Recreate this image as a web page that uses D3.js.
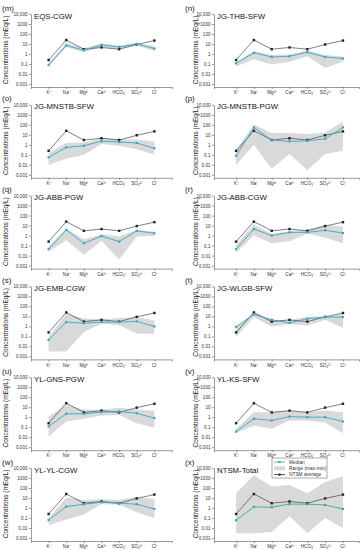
<!DOCTYPE html>
<html>
<head>
<meta charset="utf-8">
<script src="https://cdn.jsdelivr.net/npm/d3@7"></script>
<style>
  body { margin: 0; background: #fff; }
  svg { display: block; font-family: "Liberation Sans", Arial, sans-serif; }
</style>
</head>
<body>
<div id="chart"></div>
<script>
// ions on the x axis
const ions = [`K⁺`, `Na⁺`, `Mg²⁺`, `Ca²⁺`, `HCO₃⁻`, `SO₄²⁻`, `Cl⁻`];
const yTicks = [10000, 1000, 100, 10, 1, 0.1, 0.01, 0.001];
const yTickLabels = [`10,000`, `1000`, `100`, `10`, `1`, `0.1`, `0.01`, `0.001`];

const panelLetters = [`(m)`, `(n)`, `(o)`, `(p)`, `(q)`, `(r)`, `(s)`, `(t)`, `(u)`, `(v)`, `(w)`, `(x)`];
const panelNames = [`EQS-CGW`, `JG-THB-SFW`, `JG-MNSTB-SFW`, `JG-MNSTB-PGW`, `JG-ABB-PGW`, `JG-ABB-CGW`,
  `JG-EMB-CGW`, `JG-WLGB-SFW`, `YL-GNS-PGW`, `YL-KS-SFW`, `YL-YL-CGW`, `NTSM-Total`];

// NTSM average (same in every panel)
const ntsmAverage = [0.25, 25, 3, 4.5, 3, 9, 22];

// median per panel (mEq/L)
const medianValues = [
  [0.08, 7, 2.4, 8, 5, 10, 3.5],
  [0.12, 1.3, 0.5, 0.6, 1.5, 0.5, 0.35],
  [0.055, 0.55, 0.8, 2.3, 1.9, 1.5, 0.45],
  [0.08, 55, 3, 2.2, 2.5, 4, 55],
  [0.045, 3.7, 0.17, 0.9, 0.25, 3, 1.7],
  [0.045, 4.5, 1.0, 2.1, 2.1, 3.4, 1.8],
  [0.045, 2.7, 2.1, 2.7, 2.7, 3.2, 1.0],
  [0.9, 16, 4.6, 2.2, 5.8, 8.5, 8.5],
  [0.12, 2.2, 2.2, 3.2, 3.7, 2.5, 0.8],
  [0.037, 0.7, 0.47, 1.15, 1.0, 1.0, 0.37],
  [0.063, 1.4, 2.4, 3.8, 3, 2.4, 0.8],
  [0.06, 1.3, 1.2, 2.5, 2.4, 2, 0.8]
];

// range: minimum and maximum per panel
const minValues = [
  [0.06, 5, 1.5, 5, 3, 7, 2],
  [0.055, 0.3, 0.09, 0.17, 0.6, 0.04, 0.18],
  [0.01, 0.04, 0.1, 1.2, 0.8, 0.35, 0.1],
  [0.01, 1, 0.004, 0.12, 0.003, 0.12, 0.25],
  [0.025, 0.35, 0.012, 0.3, 0.004, 0.8, 0.9],
  [0.02, 1, 0.17, 0.27, 1.6, 0.6, 0.17],
  [0.003, 0.003, 0.27, 1.8, 1.3, 0.2, 0.18],
  [0.09, 8.5, 1, 1.6, 1.25, 4.6, 0.7],
  [0.012, 0.37, 0.7, 1.5, 1.7, 0.25, 0.09],
  [0.025, 0.15, 0.07, 0.46, 0.46, 0.3, 0.025],
  [0.02, 0.07, 0.23, 2.4, 2.1, 0.38, 0.1],
  [0.003, 0.003, 0.004, 0.15, 0.003, 0.1, 0.01]
];
const maxValues = [
  [0.11, 13, 3.5, 12, 7, 13, 6],
  [0.14, 2, 0.8, 0.9, 2.2, 0.8, 0.55],
  [0.15, 1.5, 1.7, 4.6, 3.7, 3.2, 2.1],
  [0.3, 100, 15, 15, 12, 17, 200],
  [0.08, 5, 0.4, 1.4, 0.8, 3.7, 2.5],
  [0.12, 12, 1.5, 2.7, 4, 12, 8],
  [0.09, 18, 6, 5, 7, 8.5, 4],
  [0.85, 22, 4.6, 4, 10, 10, 16],
  [1.2, 17, 6, 5.4, 9, 6, 4.3],
  [0.07, 3.2, 3.2, 4.6, 3.2, 4.6, 3.2],
  [0.1, 11, 6.4, 7.4, 6.4, 13, 7.4],
  [30, 1900, 140, 200, 30, 400, 1500]
];

const legendLabels = [`Median`, `Range (max-min)`, `NTSM average`];

const width = 364;
const height = 550;
// per column: y axis position, axis end, x domain
const colX = [31, 214];
const colEnd = [172, 359];
const colDomain = [[0, 8], [-0.24, 7.9]];
const labelX = [6, 196];
const letterX = [2, 185];
const rowPitch = 90.8;
const plotH = 73;

const svg = d3.select(`#chart`).append(`svg`)
  .attr(`width`, width)
  .attr(`height`, height);

svg.append(`rect`).attr(`width`, width).attr(`height`, height).attr(`fill`, `#fff`);

panelNames.forEach((name, p) => {
  const col = p % 2;
  const row = Math.floor(p / 2);
  const left = colX[col];
  const top = 14 + row * rowPitch;
  const medColor = p === 11 ? `#3bab8c` : `#3aa7c4`;

  const x = d3.scaleLinear().domain(colDomain[col]).range([left, colEnd[col]]);
  const y = d3.scaleLog().domain([0.0005, 10000]).range([top + plotH, top]);

  const g = svg.append(`g`);

  // range band
  const band = d3.range(ions.length).map(i => ({ i, lo: minValues[p][i], hi: maxValues[p][i] }));
  g.append(`path`)
    .datum(band)
    .attr(`fill`, `#d9d9d9`)
    .attr(`d`, d3.area().x(d => x(d.i + 1)).y0(d => y(d.lo)).y1(d => y(d.hi)));

  // NTSM average
  const line = d3.line().x((d, i) => x(i + 1)).y(d => y(d));
  g.append(`path`)
    .datum(ntsmAverage)
    .attr(`fill`, `none`)
    .attr(`stroke`, `#3a3a3a`)
    .attr(`stroke-width`, 0.65)
    .attr(`d`, line);
  g.selectAll(`.avg`)
    .data(ntsmAverage)
    .enter().append(`rect`)
      .attr(`x`, (d, i) => x(i + 1) - 1.2)
      .attr(`y`, d => y(d) - 1.2)
      .attr(`width`, 2.4)
      .attr(`height`, 2.4)
      .attr(`fill`, `#222`);

  // median
  g.append(`path`)
    .datum(medianValues[p])
    .attr(`fill`, `none`)
    .attr(`stroke`, medColor)
    .attr(`stroke-width`, 0.9)
    .attr(`d`, line);
  g.selectAll(`.med`)
    .data(medianValues[p])
    .enter().append(`rect`)
      .attr(`x`, (d, i) => x(i + 1) - 1.1)
      .attr(`y`, d => y(d) - 1.1)
      .attr(`width`, 2.2)
      .attr(`height`, 2.2)
      .attr(`fill`, medColor);

  // axes
  const yAxis = g.append(`g`)
    .attr(`transform`, `translate(${left},0)`)
    .call(d3.axisLeft(y)
      .tickValues(yTicks)
      .tickFormat((d, i) => yTickLabels[i])
      .tickSize(2)
      .tickSizeOuter(0)
      .tickPadding(1.5));
  const xAxis = g.append(`g`)
    .attr(`transform`, `translate(0,${top + plotH})`)
    .call(d3.axisBottom(x)
      .tickValues(d3.range(1, 8))
      .tickFormat(d => ions[d - 1])
      .tickSize(2)
      .tickSizeOuter(2)
      .tickPadding(2));
  [yAxis, xAxis].forEach(a => {
    a.selectAll(`path, line`).attr(`stroke`, `#555`).attr(`stroke-width`, 0.6);
    a.selectAll(`text`).attr(`font-size`, 4.6).attr(`fill`, `#333`).attr(`font-family`, `"Liberation Sans", Arial, sans-serif`);
  });

  // labels
  svg.append(`text`)
    .attr(`x`, letterX[col])
    .attr(`y`, top - 3.5)
    .attr(`font-size`, 8)
    .attr(`fill`, `#222`)
    .text(panelLetters[p]);
  svg.append(`text`)
    .attr(`x`, left + 3)
    .attr(`y`, top + 4.5)
    .attr(`font-size`, 7.8)
    .attr(`fill`, `#111`)
    .text(name);
  svg.append(`text`)
    .attr(`transform`, `translate(${labelX[col]},${top + 36}) rotate(-90)`)
    .attr(`text-anchor`, `middle`)
    .attr(`dy`, `0.35em`)
    .attr(`font-size`, 6.5)
    .attr(`fill`, `#222`)
    .text(`Concentrations (mEq/L)`);

  // legend in the last panel
  if (p === 11) {
    const lg = svg.append(`g`).attr(`transform`, `translate(272,458)`);
    lg.append(`rect`).attr(`width`, 55).attr(`height`, 20)
      .attr(`fill`, `#fff`).attr(`stroke`, `#555`).attr(`stroke-width`, 0.5);
    legendLabels.forEach((lab, k) => {
      const ly = 4 + k * 6.3;
      if (k === 1) {
        lg.append(`rect`).attr(`x`, 2).attr(`y`, ly - 2).attr(`width`, 11).attr(`height`, 4).attr(`fill`, `#d9d9d9`);
      } else {
        const c = k === 0 ? medColor : `#222`;
        lg.append(`line`).attr(`x1`, 2).attr(`x2`, 13).attr(`y1`, ly).attr(`y2`, ly).attr(`stroke`, c).attr(`stroke-width`, 0.8);
        lg.append(`rect`).attr(`x`, 6.4).attr(`y`, ly - 1.1).attr(`width`, 2.2).attr(`height`, 2.2).attr(`fill`, c);
      }
      lg.append(`text`).attr(`x`, 17).attr(`y`, ly + 1.7).attr(`font-size`, 4.8).attr(`fill`, `#333`).text(lab);
    });
  }
});
</script>
</body>
</html>
